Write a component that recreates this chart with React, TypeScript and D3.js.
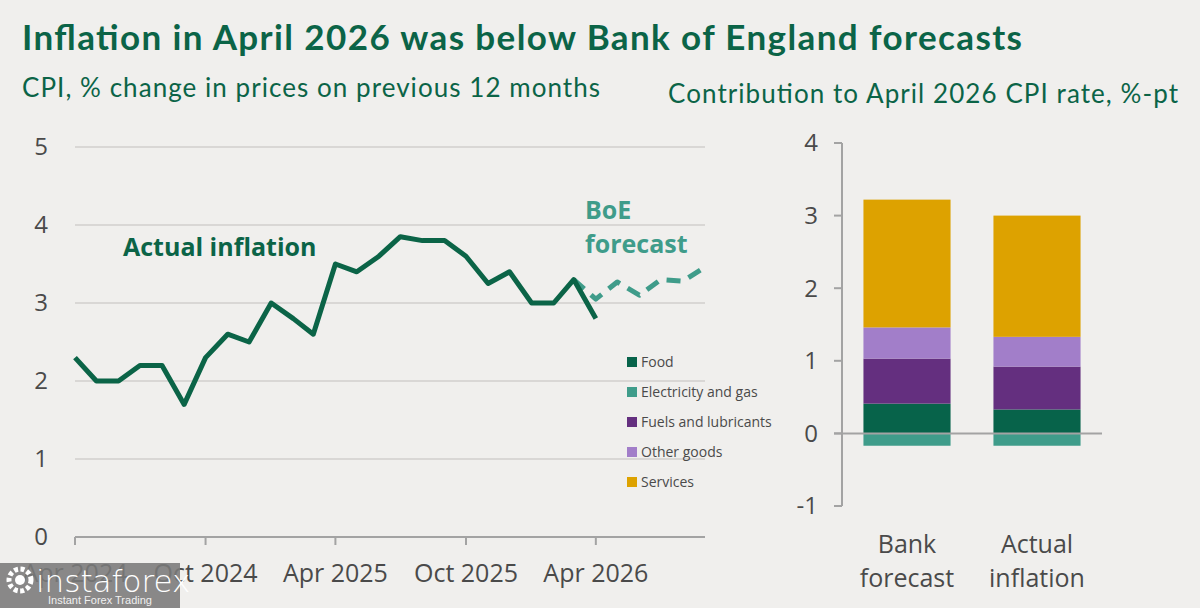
import React from "react";
import * as d3 from "d3";

// CPI, % change on previous 12 months, Apr 2024 .. Apr 2026
const actualValues = [
  2.3, 2.0, 2.0, 2.2, 2.2, 1.7, 2.3, 2.6, 2.5, 3.0, 2.8, 2.6, 3.5, 3.4, 3.6,
  3.85, 3.8, 3.8, 3.6, 3.25, 3.4, 3.0, 3.0, 3.3, 2.8,
];
// BoE forecast, Mar 2026 .. Sep 2026
const forecastValues = [3.3, 3.05, 3.27, 3.1, 3.3, 3.28, 3.46];

const yTicksLeft = [0, 1, 2, 3, 4, 5];
const xTickLabels = ["Apr 2024", "Oct 2024", "Apr 2025", "Oct 2025", "Apr 2026"];

const categories = ["Bank forecast", "Actual inflation"];
const categoryLines = [
  ["Bank", "forecast"],
  ["Actual", "inflation"],
];
const components = [
  "Food",
  "Electricity and gas",
  "Fuels and lubricants",
  "Other goods",
  "Services",
];
const foodValues = [0.41, 0.33];
const electricityValues = [-0.17, -0.17];
const fuelsValues = [0.62, 0.59];
const otherGoodsValues = [0.43, 0.41];
const servicesValues = [1.76, 1.67];
const yTicksRight = [-1, 0, 1, 2, 3, 4];

const colors: Record<string, string> = {
  Food: "#07634a",
  "Electricity and gas": "#3f9c8a",
  "Fuels and lubricants": "#642f7f",
  "Other goods": "#a27ec9",
  Services: "#dda200",
};

const GREEN = "#0b6447";
const TEAL = "#3f9c8a";
const AXIS = "#a3a3a3";
const GRID = "#d9d7d5";
const LABEL = "#4a4a4a";
const SANS = "'Open Sans', 'Noto Sans', sans-serif";
const TITLE_FONT = "Lato, 'Open Sans', sans-serif";

export default function App() {
  const width = 1200;
  const height = 608;

  // ---- left line chart ----
  const start = new Date(2024, 3, 1);
  const actualDates = actualValues.map((_, i) => d3.timeMonth.offset(start, i));
  const forecastDates = forecastValues.map((_, i) =>
    d3.timeMonth.offset(new Date(2026, 2, 1), i)
  );
  const x = d3
    .scaleTime()
    .domain([start, new Date(2026, 8, 1)])
    .range([75, 705]);
  const y = d3.scaleLinear().domain([0, 5]).range([537, 147]);
  const xTicks = xTickLabels.map((_, i) => d3.timeMonth.offset(start, i * 6));

  const line = d3
    .line<[Date, number]>()
    .x((d) => x(d[0]))
    .y((d) => y(d[1]));
  const actualPath = line(actualDates.map((d, i) => [d, actualValues[i]]));
  const forecastPath = line(forecastDates.map((d, i) => [d, forecastValues[i]]));

  // ---- right stacked bars ----
  const y2 = d3.scaleLinear().domain([-1, 4]).range([506, 143]);
  const xb = d3
    .scaleBand()
    .domain(categories)
    .range([842, 1102])
    .paddingInner(0.33)
    .paddingOuter(0.165);

  const rows = categories.map((c, i) => ({
    cat: c,
    Food: foodValues[i],
    "Electricity and gas": electricityValues[i],
    "Fuels and lubricants": fuelsValues[i],
    "Other goods": otherGoodsValues[i],
    Services: servicesValues[i],
  }));
  const stack = d3
    .stack<any>()
    .keys(components)
    .offset(d3.stackOffsetDiverging);
  const series = stack(rows);

  return (
    <svg
      width={width}
      height={height}
      style={{ position: "absolute", left: 0, top: 0, background: "#f0efed" }}
    >
      <rect width={width} height={height} fill="#f0efed" />
      {/* titles */}
      <text
        x={22}
        y={50}
        fill={GREEN}
        fontFamily={TITLE_FONT}
        fontWeight={700}
        fontSize={35}
        textLength={1000}
        lengthAdjust="spacing"
      >
        Inflation in April 2026 was below Bank of England forecasts
      </text>
      <text
        x={22}
        y={97}
        fill={GREEN}
        fontFamily={TITLE_FONT}
        fontSize={26}
        textLength={578}
        lengthAdjust="spacing"
      >
        CPI, % change in prices on previous 12 months
      </text>
      <text
        x={668}
        y={103}
        fill={GREEN}
        fontFamily={TITLE_FONT}
        fontSize={26}
        textLength={510}
        lengthAdjust="spacing"
      >
        Contribution to April 2026 CPI rate, %-pt
      </text>

      {/* left grid + y labels */}
      {yTicksLeft.map((t) => (
        <g key={t}>
          {t > 0 && (
            <line x1={75} x2={705} y1={y(t)} y2={y(t)} stroke={GRID} strokeWidth={2} />
          )}
          <text
            x={48}
            y={y(t)}
            dy="0.35em"
            textAnchor="end"
            fill={LABEL}
            fontFamily={SANS}
            fontSize={24}
          >
            {t}
          </text>
        </g>
      ))}
      {/* x axis */}
      <line x1={75} x2={705} y1={y(0)} y2={y(0)} stroke={AXIS} strokeWidth={2} />
      {xTicks.map((d, i) => (
        <g key={i}>
          <line x1={x(d)} x2={x(d)} y1={y(0)} y2={y(0) + 8} stroke={AXIS} strokeWidth={2} />
          <text
            x={x(d)}
            y={582}
            textAnchor="middle"
            fill={LABEL}
            fontFamily={SANS}
            fontSize={25}
          >
            {xTickLabels[i]}
          </text>
        </g>
      ))}

      <path
        d={forecastPath || ""}
        fill="none"
        stroke={TEAL}
        strokeWidth={5}
        strokeDasharray="14 9"
        strokeLinejoin="round"
      />
      <path
        d={actualPath || ""}
        fill="none"
        stroke={GREEN}
        strokeWidth={5}
        strokeLinejoin="round"
      />

      <text x={123} y={256} fill={GREEN} fontFamily={SANS} fontWeight={700} fontSize={25}>
        Actual inflation
      </text>
      <text fill={TEAL} fontFamily={SANS} fontWeight={700} fontSize={25}>
        <tspan x={585} y={219}>BoE</tspan>
        <tspan x={585} y={253}>forecast</tspan>
      </text>

      {/* legend */}
      {components.map((c, i) => (
        <g key={c} transform={`translate(627, ${362 + i * 30})`}>
          <rect x={0} y={-5} width={10} height={10} fill={colors[c]} />
          <text x={14} y={0} dy="0.35em" fill={LABEL} fontFamily={SANS} fontSize={14}>
            {c}
          </text>
        </g>
      ))}

      {/* right chart */}
      {series.map((s) => (
        <g key={s.key} fill={colors[s.key]}>
          {s.map((d, i) => (
            <rect
              key={i}
              x={xb(categories[i])}
              width={xb.bandwidth()}
              y={y2(Math.max(d[0], d[1]))}
              height={Math.abs(y2(d[0]) - y2(d[1]))}
            />
          ))}
        </g>
      ))}
      <line x1={842} x2={842} y1={y2(4)} y2={y2(-1)} stroke={AXIS} strokeWidth={2} />
      <line x1={834} x2={1102} y1={y2(0)} y2={y2(0)} stroke={AXIS} strokeWidth={2} />
      {yTicksRight.map((t) => (
        <g key={t}>
          <line x1={834} x2={842} y1={y2(t)} y2={y2(t)} stroke={AXIS} strokeWidth={2} />
          <text
            x={818}
            y={y2(t)}
            dy="0.35em"
            textAnchor="end"
            fill={LABEL}
            fontFamily={SANS}
            fontSize={24}
          >
            {t}
          </text>
        </g>
      ))}
      {categories.map((c, i) => (
        <text
          key={c}
          textAnchor="middle"
          fill={LABEL}
          fontFamily={SANS}
          fontSize={25}
        >
          <tspan x={(xb(c) || 0) + xb.bandwidth() / 2} y={553}>
            {categoryLines[i][0]}
          </tspan>
          <tspan x={(xb(c) || 0) + xb.bandwidth() / 2} y={587}>
            {categoryLines[i][1]}
          </tspan>
        </text>
      ))}

      {/* watermark */}
      <g>
        <rect x={0} y={563} width={180} height={45} fill="#7a7a7a" opacity={0.88} />
        <circle cx={20} cy={580} r={11} fill="none" stroke="#fff" strokeWidth={5} strokeDasharray="4 2.5" />
        <circle cx={20} cy={580} r={5} fill="#fff" />
        <text x={36} y={592} fill="#fff" fontFamily="'DejaVu Sans', sans-serif" fontSize={31} fontWeight={300}>
          instaforex
        </text>
        <text x={48} y={604} fill="#f0f0f0" fontFamily="'Liberation Sans', sans-serif" fontSize={11}>
          Instant Forex Trading
        </text>
      </g>
    </svg>
  );
}
